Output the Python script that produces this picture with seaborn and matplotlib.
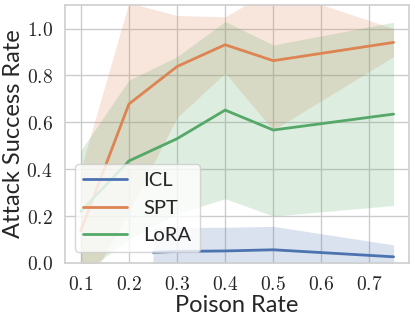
import matplotlib
matplotlib.use("Agg")
import matplotlib.pyplot as plt
import matplotlib.ticker as mticker
import pandas as pd
import seaborn as sns

# values
methods = ['ICL', 'SPT', 'LoRA']

icl_x = [0.25, 0.3, 0.4, 0.5, 0.75]
icl_mean = [0.045, 0.049, 0.051, 0.056, 0.026]
icl_low = [-0.06, -0.05, -0.05, -0.045, -0.03]
icl_high = [0.150, 0.151, 0.152, 0.156, 0.077]

spt_x = [0.1, 0.2, 0.3, 0.4, 0.5, 0.75]
spt_mean = [0.137, 0.678, 0.838, 0.931, 0.863, 0.941]
spt_low = [-0.15, 0.22, 0.62, 0.81, 0.567, 0.88]
spt_high = [0.40, 1.11, 1.056, 1.05, 1.17, 1.0]

lora_x = [0.1, 0.2, 0.3, 0.4, 0.5, 0.75]
lora_mean = [0.22, 0.435, 0.53, 0.652, 0.567, 0.635]
lora_low = [-0.05, 0.10, 0.21, 0.274, 0.20, 0.245]
lora_high = [0.48, 0.78, 0.88, 1.03, 0.93, 1.027]

sns.set_theme(style='whitegrid')
plt.rcParams['mathtext.fontset'] = 'cm'
plt.rcParams['font.family'] = ['Lato', 'DejaVu Sans']

rows = []
for m, xs, ys in zip(methods, [icl_x, spt_x, lora_x],
                     [icl_mean, spt_mean, lora_mean]):
    for x, y in zip(xs, ys):
        rows.append({'method': m, 'rate': x, 'asr': y})
df = pd.DataFrame(rows)

pal = sns.color_palette('deep')
colors = {'ICL': pal[0], 'SPT': pal[1], 'LoRA': pal[2]}

fig = plt.figure(figsize=(4.15, 3.21), dpi=100)
ax = fig.add_axes([0.157, 0.181, 0.829, 0.803])

sns.lineplot(data=df, x='rate', y='asr', hue='method', hue_order=methods,
             palette=colors, linewidth=2, ax=ax)

bands = {'ICL': (icl_x, icl_low, icl_high),
         'SPT': (spt_x, spt_low, spt_high),
         'LoRA': (lora_x, lora_low, lora_high)}
for m in methods:
    xs, lo, hi = bands[m]
    ax.fill_between(xs, lo, hi, color=colors[m], alpha=0.2, linewidth=0)

ax.set_ylim(0, 1.1)
ax.set_xticks([0.1, 0.2, 0.3, 0.4, 0.5, 0.6, 0.7])
ax.set_yticks([0.0, 0.2, 0.4, 0.6, 0.8, 1.0])
ax.xaxis.set_major_formatter(mticker.FormatStrFormatter(r'$%.1f$'))
ax.yaxis.set_major_formatter(mticker.FormatStrFormatter(r'$%.1f$'))
ax.tick_params(labelsize=14, pad=3)
ax.set_xlabel('Poison Rate', fontsize=17, labelpad=1)
ax.set_ylabel('Attack Success Rate', fontsize=17, labelpad=2)
for s in ax.spines.values():
    s.set_color('#d0d0d0')

leg = ax.legend(loc='lower left', fontsize=14.5, handlelength=2.2,
                borderaxespad=0, bbox_to_anchor=(0.029, 0.043), title=None)

fig.savefig('out.png', dpi=100)
